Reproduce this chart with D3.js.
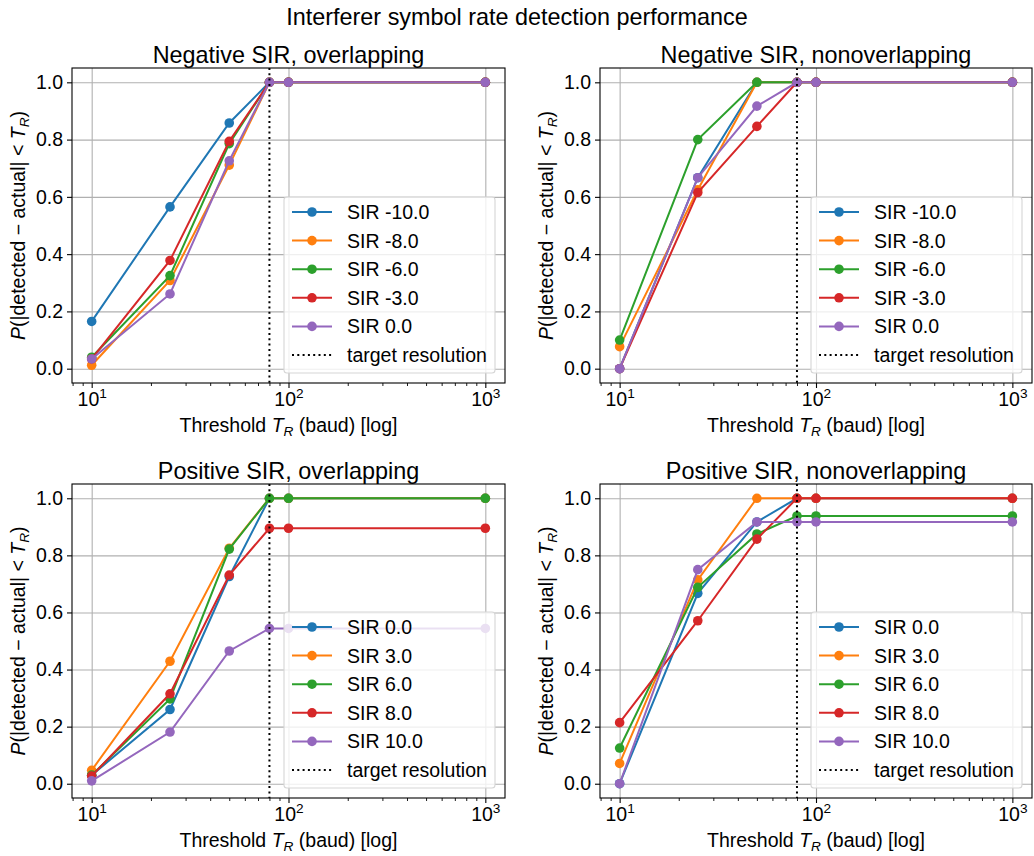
<!DOCTYPE html>
<html>
<head>
<meta charset="utf-8">
<script src="https://cdn.jsdelivr.net/npm/d3@7"></script>
<style>
  body { margin: 0; background: #fff; }
  svg text { font-family: "Liberation Sans", Arial, Helvetica, sans-serif; fill: #000; }
</style>
</head>
<body>
<div id="chart"></div>
<script>
// thresholds T_R (baud) used on every panel
var thresholds = [10, 25, 50, 80, 100, 1000];
var targetResolution = 80;

var negLabels = ["SIR -10.0", "SIR -8.0", "SIR -6.0", "SIR -3.0", "SIR 0.0"];
var posLabels = ["SIR 0.0", "SIR 3.0", "SIR 6.0", "SIR 8.0", "SIR 10.0"];

var negOverlap = [
    [0.165, 0.565, 0.858, 1, 1, 1],
    [0.012, 0.308, 0.711, 1, 1, 1],
    [0.040, 0.325, 0.786, 1, 1, 1],
    [0.034, 0.378, 0.794, 1, 1, 1],
    [0.034, 0.261, 0.726, 1, 1, 1]
];
var negNonoverlap = [
    [0, 0.667, 1, 1, 1, 1],
    [0.077, 0.625, 1, 1, 1, 1],
    [0.100, 0.800, 1, 1, 1, 1],
    [0, 0.615, 0.846, 1, 1, 1],
    [0, 0.667, 0.917, 1, 1, 1]
];
var posOverlap = [
    [0.030, 0.260, 0.726, 1, 1, 1],
    [0.047, 0.429, 0.825, 1, 1, 1],
    [0.030, 0.297, 0.822, 1, 1, 1],
    [0.027, 0.315, 0.731, 0.895, 0.895, 0.895],
    [0.010, 0.181, 0.465, 0.544, 0.544, 0.544]
];
var posNonoverlap = [
    [0, 0.667, 0.917, 1, 1, 1],
    [0.071, 0.714, 1, 1, 1, 1],
    [0.125, 0.688, 0.875, 0.938, 0.938, 0.938],
    [0.214, 0.571, 0.857, 1, 1, 1],
    [0, 0.750, 0.917, 0.917, 0.917, 0.917]
];

var yTicks = [0, 0.2, 0.4, 0.6, 0.8, 1.0];
var colors = ["#1f77b4", "#ff7f0e", "#2ca02c", "#d62728", "#9467bd"];

var W = 1034, H = 856;
var FS = 19.5;      // ticks, labels, legend
var TFS = 23.4;     // titles

var svg = d3.select("#chart").append("svg")
    .attr("width", W)
    .attr("height", H);

svg.append("text")
    .attr("x", 517)
    .attr("y", 25)
    .attr("text-anchor", "middle")
    .style("font-size", TFS + "px")
    .text("Interferer symbol rate detection performance");

var panels = [
    {title: "Negative SIR, overlapping", labels: negLabels, data: negOverlap, x0: 72, x1: 505, y0: 68, y1: 383},
    {title: "Negative SIR, nonoverlapping", labels: negLabels, data: negNonoverlap, x0: 600, x1: 1032, y0: 68, y1: 383},
    {title: "Positive SIR, overlapping", labels: posLabels, data: posOverlap, x0: 72, x1: 505, y0: 484, y1: 798},
    {title: "Positive SIR, nonoverlapping", labels: posLabels, data: posNonoverlap, x0: 600, x1: 1032, y0: 484, y1: 798}
];

panels.forEach(drawPanel);

function drawPanel(p) {
    var w = p.x1 - p.x0, h = p.y1 - p.y0;
    var g = svg.append("g").attr("transform", "translate(" + p.x0 + "," + p.y0 + ")");

    // log axis with 5% margins in log space like matplotlib
    var x = d3.scaleLog().domain([Math.pow(10, 0.9), Math.pow(10, 3.1)]).range([0, w]);
    var y = d3.scaleLinear().domain([-0.05, 1.05]).range([h, 0]);

    // grid
    g.append("g")
        .call(d3.axisBottom(x).tickValues([10, 100, 1000]).tickSize(h).tickFormat(""))
        .call(function(s) { s.select(".domain").remove(); })
        .selectAll("line").attr("stroke", "#b0b0b0").attr("stroke-width", 1.1);
    g.append("g")
        .call(d3.axisLeft(y).tickValues(yTicks).tickSize(-w).tickFormat(""))
        .call(function(s) { s.select(".domain").remove(); })
        .selectAll("line").attr("stroke", "#b0b0b0").attr("stroke-width", 1.1);

    // series
    var line = d3.line()
        .x(function(d, i) { return x(thresholds[i]); })
        .y(function(d) { return y(d); });

    p.data.forEach(function(vals, k) {
        g.append("path")
            .datum(vals)
            .attr("d", line)
            .attr("fill", "none")
            .attr("stroke", colors[k])
            .attr("stroke-width", 2);
        g.selectAll(".pt" + k)
            .data(vals)
            .enter()
            .append("circle")
            .attr("cx", function(d, i) { return x(thresholds[i]); })
            .attr("cy", function(d) { return y(d); })
            .attr("r", 4.8)
            .attr("fill", colors[k]);
    });

    // target resolution
    g.append("line")
        .attr("x1", x(targetResolution)).attr("x2", x(targetResolution))
        .attr("y1", 0).attr("y2", h)
        .attr("stroke", "#000")
        .attr("stroke-width", 2)
        .attr("stroke-dasharray", "2,3.3");

    // legend, lower right
    var lw = 211, lh = 176;
    var lg = g.append("g").attr("transform", "translate(" + (w - 10 - lw) + "," + (h - 10 - lh) + ")");
    lg.append("rect")
        .attr("width", lw).attr("height", lh)
        .attr("rx", 3).attr("ry", 3)
        .attr("fill", "rgba(255,255,255,0.8)")
        .attr("stroke", "#d6d6d6")
        .attr("stroke-width", 1.1);
    var entries = p.labels.concat(["target resolution"]);
    entries.forEach(function(lab, k) {
        var ey = 15 + k * 28.6;
        var l = lg.append("line")
            .attr("x1", 8).attr("x2", 48)
            .attr("y1", ey).attr("y2", ey)
            .attr("stroke-width", 2);
        if (k < 5) {
            l.attr("stroke", colors[k]);
            lg.append("circle").attr("cx", 28).attr("cy", ey).attr("r", 4.8).attr("fill", colors[k]);
        } else {
            l.attr("stroke", "#000").attr("stroke-dasharray", "2,3.3");
        }
        lg.append("text")
            .attr("x", 63).attr("y", ey + 7)
            .style("font-size", FS + "px")
            .text(lab);
    });

    // y axis
    var ya = g.append("g")
        .call(d3.axisLeft(y).tickValues(yTicks).tickSize(5).tickPadding(4).tickFormat(d3.format(".1f")));
    ya.select(".domain").remove();
    ya.selectAll("line").attr("stroke", "#000").attr("stroke-width", 1.1);
    ya.selectAll("text").style("font-size", FS + "px").attr("font-family", null);

    // x axis minor ticks
    var minor = [];
    [1, 10, 100].forEach(function(dec) {
        for (var m = 2; m <= 9; m++) {
            var v = m * dec;
            if (v >= x.domain()[0] && v <= x.domain()[1]) minor.push(v);
        }
    });
    var xm = g.append("g").attr("transform", "translate(0," + h + ")")
        .call(d3.axisBottom(x).tickValues(minor).tickSize(3).tickFormat(""));
    xm.select(".domain").remove();
    xm.selectAll("line").attr("stroke", "#000").attr("stroke-width", 0.9);

    // x axis major ticks with 10^n labels
    var xa = g.append("g").attr("transform", "translate(0," + h + ")")
        .call(d3.axisBottom(x).tickValues([10, 100, 1000]).tickSize(5).tickPadding(4).tickFormat(""));
    xa.select(".domain").remove();
    xa.selectAll("line").attr("stroke", "#000").attr("stroke-width", 1.1);
    xa.selectAll(".tick text")
        .attr("y", 23)
        .attr("dy", null)
        .style("font-size", FS + "px")
        .attr("font-family", null)
        .each(function(d) {
            var t = d3.select(this);
            t.append("tspan").text("10");
            t.append("tspan")
                .attr("dy", -8)
                .style("font-size", (FS * 0.7) + "px")
                .text(Math.round(Math.log10(d)));
        });

    // frame
    g.append("rect")
        .attr("width", w).attr("height", h)
        .attr("fill", "none")
        .attr("stroke", "#000")
        .attr("stroke-width", 1.1);

    // titles and labels
    g.append("text")
        .attr("x", w / 2).attr("y", -5)
        .attr("text-anchor", "middle")
        .style("font-size", TFS + "px")
        .text(p.title);

    var xl = g.append("text")
        .attr("x", w / 2).attr("y", h + 49)
        .attr("text-anchor", "middle")
        .style("font-size", FS + "px");
    xl.append("tspan").text("Threshold ");
    xl.append("tspan").style("font-style", "italic").text("T");
    xl.append("tspan").style("font-style", "italic").style("font-size", (FS * 0.7) + "px").attr("dy", 4).text("R");
    xl.append("tspan").attr("dy", -4).text(" (baud) [log]");

    var yl = g.append("text")
        .attr("transform", "translate(" + (-47) + "," + (h / 2) + ") rotate(-90)")
        .attr("text-anchor", "middle")
        .style("font-size", FS + "px");
    yl.append("tspan").style("font-style", "italic").text("P");
    yl.append("tspan").text("(|detected \u2212 actual| < ");
    yl.append("tspan").style("font-style", "italic").text("T");
    yl.append("tspan").style("font-style", "italic").style("font-size", (FS * 0.7) + "px").attr("dy", 4).text("R");
    yl.append("tspan").attr("dy", -4).text(")");
}
</script>
</body>
</html>
